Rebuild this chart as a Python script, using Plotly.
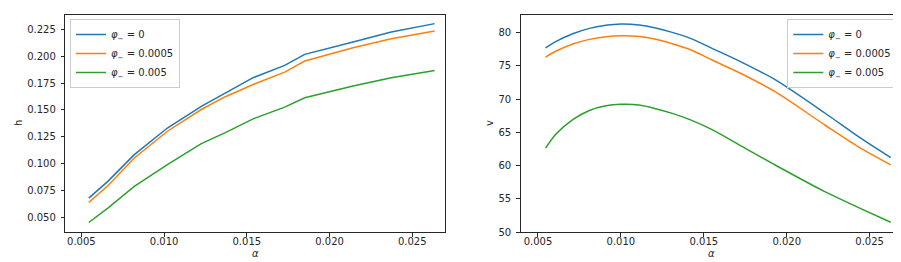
import plotly.graph_objects as go

# ---- data ----
alpha_h = [0.00545, 0.0066, 0.0082, 0.0102, 0.01225, 0.01367, 0.01538, 0.01729, 0.0185, 0.02142, 0.02373, 0.02635]
h_phi0 = [0.068, 0.0836, 0.1084, 0.1332, 0.1534, 0.1658, 0.180, 0.1914, 0.2017, 0.2132, 0.2226, 0.2303]
h_phi00005 = [0.064, 0.0795, 0.1053, 0.1302, 0.1504, 0.1621, 0.1737, 0.1852, 0.1955, 0.2079, 0.2163, 0.2235]
h_phi0005 = [0.0453, 0.0587, 0.0789, 0.0991, 0.1187, 0.1287, 0.1417, 0.1526, 0.1613, 0.1722, 0.180, 0.1868]

alpha_v = [0.00546, 0.0061, 0.0071, 0.0081, 0.0091, 0.0100, 0.0111, 0.0121, 0.0131, 0.0142,
           0.0155, 0.0173, 0.0193, 0.0223, 0.0243, 0.02627]
v_phi0 = [77.69, 78.65, 79.79, 80.6, 81.05, 81.25, 81.1, 80.65, 80.0, 79.1,
          77.6, 75.5, 72.9, 67.9, 64.4, 61.22]
v_phi00005 = [76.29, 77.2, 78.25, 78.95, 79.35, 79.49, 79.38, 78.97, 78.3, 77.4,
              75.85, 73.75, 71.1, 66.1, 62.85, 60.11]
v_phi0005 = [62.62, 64.77, 66.9, 68.28, 68.98, 69.2, 69.1, 68.55, 67.85, 66.87,
             65.4, 62.9, 60.1, 56.1, 53.75, 51.5]

labels = ["<i>φ</i><sub>−</sub> = 0", "<i>φ</i><sub>−</sub> = 0.0005", "<i>φ</i><sub>−</sub> = 0.005"]
colors = ["#1f77b4", "#ff7f0e", "#2ca02c"]

x_ticks = [0.005, 0.010, 0.015, 0.020, 0.025]
h_ticks = [0.050, 0.075, 0.100, 0.125, 0.150, 0.175, 0.200, 0.225]
v_ticks = [50, 55, 60, 65, 70, 75, 80]

W, H = 901, 262
fig = go.Figure()

for ys, lab, c in zip([h_phi0, h_phi00005, h_phi0005], labels, colors):
    fig.add_trace(go.Scatter(x=alpha_h, y=ys, mode="lines", name=lab,
                             line=dict(color=c, width=1.5), xaxis="x", yaxis="y", legend="legend"))
for ys, lab, c in zip([v_phi0, v_phi00005, v_phi0005], labels, colors):
    fig.add_trace(go.Scatter(x=alpha_v, y=ys, mode="lines", name=lab,
                             line=dict(color=c, width=1.5, shape="spline", smoothing=0.8),
                             xaxis="x2", yaxis="y2", legend="legend2"))

font = dict(family="DejaVu Sans", size=10, color="#262626")
axcommon = dict(showline=True, linecolor="#262626", linewidth=1, mirror=True,
                ticks="outside", ticklen=3.5, tickwidth=0.8, tickcolor="#262626",
                showgrid=False, zeroline=False, tickfont=font, automargin=False)

yd = [37.7 / H, 255.3 / H]
fig.update_layout(
    width=W, height=H, margin=dict(l=0, r=0, t=0, b=0),
    paper_bgcolor="white", plot_bgcolor="white", font=font,
    xaxis=dict(domain=[57.3 / W, 436.7 / W], range=[0.00403, 0.02696], anchor="y",
               tickvals=x_ticks, tickformat=".3f", ticklabelstandoff=-4, **axcommon),
    yaxis=dict(domain=yd, range=[0.0362, 0.2386], anchor="x",
               tickvals=h_ticks, tickformat=".3f", ticklabelstandoff=3, **axcommon),
    xaxis2=dict(domain=[512.7 / W, 894.3 / W], range=[0.00396, 0.02697], anchor="y2",
                tickvals=x_ticks, tickformat=".3f", ticklabelstandoff=-4, **axcommon),
    yaxis2=dict(domain=yd, range=[50.0, 82.65], anchor="x2",
                tickvals=v_ticks, ticklabelstandoff=3, **axcommon),
    legend=dict(x=62 / W, xanchor="left", y=1 - 11 / H, yanchor="top",
                bgcolor="rgba(255,255,255,0.8)", bordercolor="#cccccc", borderwidth=1,
                font=font, tracegroupgap=0),
    legend2=dict(x=889.3 / W, xanchor="right", y=1 - 11 / H, yanchor="top",
                 bgcolor="rgba(255,255,255,0.8)", bordercolor="#cccccc", borderwidth=1,
                 font=font, tracegroupgap=0),
    annotations=[
        dict(text="<i>α</i>", x=(57.3 + 436.7) / 2 / W, y=(H - 245) / H, xref="paper", yref="paper",
             showarrow=False, font=font, xanchor="center", yanchor="middle"),
        dict(text="<i>α</i>", x=(512.7 + 894.3) / 2 / W, y=(H - 245) / H, xref="paper", yref="paper",
             showarrow=False, font=font, xanchor="center", yanchor="middle"),
        dict(text="h", x=10 / W, y=(H - 115) / H, xref="paper", yref="paper", textangle=-90,
             showarrow=False, font=font, xanchor="center", yanchor="middle"),
        dict(text="v", x=481 / W, y=(H - 115) / H, xref="paper", yref="paper", textangle=-90,
             showarrow=False, font=font, xanchor="center", yanchor="middle"),
    ],
)

fig.write_html("out.html")
